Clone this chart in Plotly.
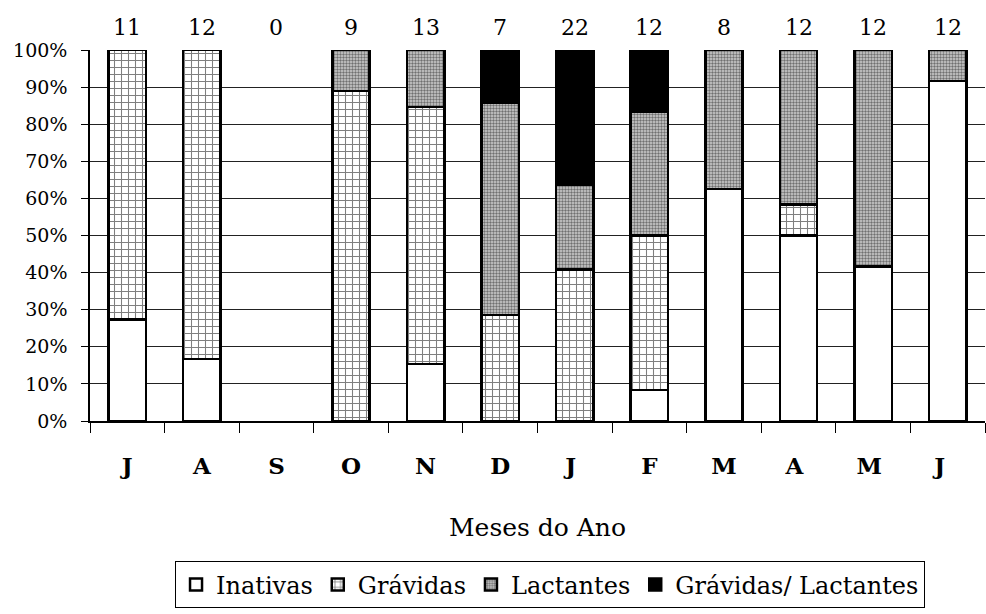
import plotly.graph_objects as go

meses = ["J", "A", "S", "O", "N", "D", "J ", "F", "M", "A ", "M ", "J  "]
n_total = [11, 12, 0, 9, 13, 7, 22, 12, 8, 12, 12, 12]
inativas = [27.3, 16.7, 0, 0, 15.4, 0, 0, 8.3, 62.5, 50.0, 41.7, 91.7]
gravidas = [72.7, 83.3, 0, 88.9, 69.2, 28.6, 40.9, 41.7, 0, 8.3, 0, 0]
lactantes = [0, 0, 0, 11.1, 15.4, 57.1, 22.7, 33.3, 37.5, 41.7, 58.3, 8.3]
grav_lact = [0, 0, 0, 0, 0, 14.3, 36.4, 16.7, 0, 0, 0, 0]

FONT = "DejaVu Serif"
line = dict(color="black", width=2.5)


def nz(vals):
    return [v if v else None for v in vals]


fig = go.Figure()
fig.add_trace(go.Bar(x=meses, y=nz(inativas), name="Inativas",
                     marker=dict(color="white", line=line)))
fig.add_trace(go.Bar(x=meses, y=nz(gravidas), name="Grávidas",
                     marker=dict(color="white", line=line,
                                 pattern=dict(shape="+", size=7, solidity=0.28,
                                              fgcolor="black", bgcolor="white"))))
fig.add_trace(go.Bar(x=meses, y=nz(lactantes), name="Lactantes",
                     marker=dict(color="#999999", line=line,
                                 pattern=dict(shape=".", size=3, solidity=0.5,
                                              fgcolor="#111", bgcolor="#cfcfcf"))))
fig.add_trace(go.Bar(x=meses, y=nz(grav_lact), name="Grávidas/ Lactantes",
                     marker=dict(color="black", line=line)))

for m, n in zip(meses, n_total):
    fig.add_annotation(x=m, y=1, xref="x", yref="paper", yanchor="middle", yshift=23,
                       text=str(n), showarrow=False,
                       font=dict(family=FONT, size=22, color="black"))

fig.update_layout(
    barmode="stack", bargap=0.5,
    width=986, height=614,
    margin=dict(l=90, r=1, t=50, b=193, autoexpand=False),
    plot_bgcolor="white", paper_bgcolor="white",
    font=dict(family=FONT, color="black"),
    showlegend=True,
    legend=dict(orientation="h", x=0.514, xanchor="center", y=-0.442, yanchor="middle",
                bordercolor="black", borderwidth=1, font=dict(family=FONT, size=24),
                traceorder="normal", itemwidth=30, tracegroupgap=0),
)
fig.update_xaxes(showline=True, linecolor="black", linewidth=1.5, automargin=False,
                 ticks="outside", ticklen=10, tickcolor="black", tickson="boundaries",
                 tickfont=dict(family=FONT, size=23, color="black", weight="bold"),
                 ticklabelstandoff=24,
                 title=dict(text="Meses do Ano", font=dict(family=FONT, size=25), standoff=40))
fig.update_yaxes(range=[0, 100], dtick=10, ticksuffix="%", automargin=False,
                 showgrid=True, gridcolor="#222", gridwidth=1,
                 showline=True, linecolor="black", linewidth=1.5,
                 ticks="outside", ticklen=7, tickcolor="black", ticklabelstandoff=10,
                 tickfont=dict(family=FONT, size=19, color="black"), zeroline=False)

fig.write_html("out.html", config={"displayModeBar": False},
               post_script="document.body.style.margin='0';")
